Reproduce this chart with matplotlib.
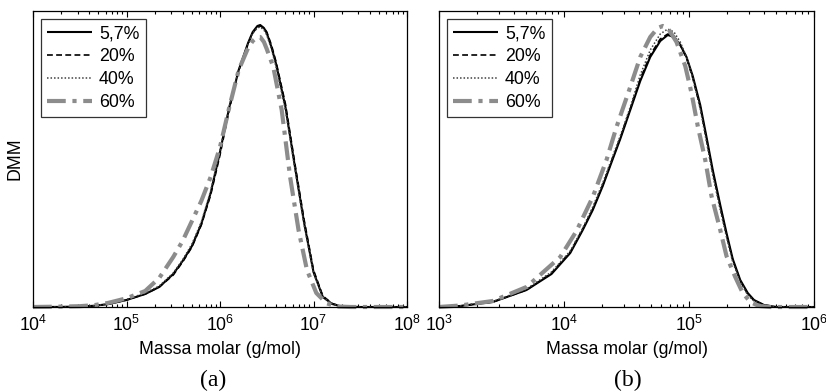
import numpy as np
import matplotlib
matplotlib.use("Agg")
import matplotlib.pyplot as plt

plt.rcParams["font.family"] = ["Liberation Sans", "DejaVu Sans"]
plt.rcParams["mathtext.fontset"] = "custom"
plt.rcParams["mathtext.rm"] = "Liberation Sans"
plt.rcParams["mathtext.it"] = "Liberation Sans:italic"
plt.rcParams["mathtext.bf"] = "Liberation Sans:bold"

labels = ["5,7%", "20%", "40%", "60%"]

# ---- panel (a): log10 of molar mass and distribution values ----
logM_a = [4.0, 4.3, 4.5, 4.65, 4.8, 5.0, 5.2, 5.35, 5.5, 5.6, 5.7, 5.8, 5.9,
          6.0, 6.1, 6.2, 6.3, 6.35, 6.4, 6.43, 6.47, 6.5, 6.55, 6.6, 6.7,
          6.8, 6.9, 7.0, 7.1, 7.2, 7.3, 7.5, 8.0]
dmm_a_57 = [0, 0.1, 0.5, 1.2, 2.8, 7, 13, 20, 33, 46, 61, 83, 114,
            155, 200, 237, 264, 275, 281, 282, 279, 274, 260, 243, 200,
            141, 84, 35, 10, 3, 0.5, 0, 0]
dmm_a_20 = [0, 0.1, 0.5, 1.2, 2.8, 7, 13, 20, 32, 45, 60, 82, 112,
            152, 198, 236, 263, 274, 280, 281, 279, 275, 262, 245, 203,
            144, 87, 37, 11, 3.5, 0.6, 0, 0]
dmm_a_40 = [0, 0.1, 0.6, 1.3, 3.0, 7.5, 14, 21, 34, 47, 63, 85, 116,
            157, 201, 237, 263, 274, 279, 280, 277, 272, 258, 240, 197,
            139, 82, 34, 10, 3, 0.5, 0, 0]
logM_a_60 = [4.0, 4.25, 4.5, 4.65, 4.8, 5.0, 5.2, 5.35, 5.5, 5.6, 5.7, 5.8,
             5.9, 6.0, 6.1, 6.2, 6.3, 6.35, 6.4, 6.43, 6.47, 6.5, 6.57, 6.66,
             6.75, 6.84, 6.93, 7.03, 7.14, 7.25, 7.4, 8.0]
dmm_a_60 = [0, 0.3, 0.8, 1.8, 4, 8.7, 16, 29, 50, 66, 86, 106,
            130, 160, 200, 237, 259, 266, 270, 270, 265, 258, 240, 197,
            130, 77, 37, 14, 3.7, 0.5, 0, 0]

# ---- panel (b) ----
logM_b = [3.0, 3.17, 3.43, 3.7, 3.9, 4.05, 4.15, 4.23, 4.31, 4.39, 4.45,
          4.53, 4.61, 4.69, 4.77, 4.83, 4.88, 4.93, 4.98, 5.03, 5.09, 5.14,
          5.19, 5.25, 5.30, 5.35, 5.41, 5.47, 5.52, 5.60, 5.70, 6.0]
dmm_b_57 = [0, 1, 5, 17, 33, 54, 77, 97, 121, 148, 168,
            197, 226, 250, 266, 272, 270, 262, 250, 231, 202, 170,
            137, 102, 74, 48, 27, 14, 7, 2, 0, 0]
dmm_b_20 = [0, 1, 5, 17, 34, 55, 78, 98, 122, 149, 169,
            198, 228, 252, 268, 273, 271, 262, 249, 229, 200, 168,
            135, 100, 72, 47, 26, 13, 6.5, 2, 0, 0]
dmm_b_40 = [0, 1.2, 5.5, 18, 35, 56, 79, 100, 124, 151, 171,
            200, 232, 257, 273, 278, 275, 265, 250, 229, 198, 165,
            132, 97, 70, 45, 25, 12, 6, 1.5, 0, 0]
logM_b_60 = [3.0, 3.17, 3.43, 3.7, 3.97, 4.1, 4.23, 4.34, 4.42, 4.53, 4.61,
             4.69, 4.75, 4.79, 4.83, 4.90, 4.97, 5.02, 5.07, 5.13, 5.18, 5.25,
             5.30, 5.37, 5.43, 5.49, 5.56, 5.65, 6.0]
dmm_b_60 = [0, 1.5, 6, 20, 50, 76, 110, 147, 180, 220, 250,
            270, 279, 281, 279, 265, 241, 214, 181, 147, 111, 77,
            51, 30, 14, 5, 1, 0, 0]

styles = [
    dict(color="black", lw=1.5, ls="-"),
    dict(color="black", lw=1.2, ls=(0, (3.5, 2.0))),
    dict(color="#404040", lw=1.1, ls=(0, (1.0, 1.3))),
    dict(color="#8c8c8c", lw=3.0, ls=(0, (4.5, 1.6, 1.0, 1.6))),
]

FS = 12.8

fig = plt.figure(figsize=(8.26, 3.92), dpi=100)
W, H = 826, 392
ax_a = fig.add_axes([33 / W, (H - 307) / H, 374 / W, 296 / H])
ax_b = fig.add_axes([439 / W, (H - 307) / H, 375 / W, 296 / H])

panels = [
    (ax_a, [(logM_a, dmm_a_57), (logM_a, dmm_a_20), (logM_a, dmm_a_40),
            (logM_a_60, dmm_a_60)], (1e4, 1e8)),
    (ax_b, [(logM_b, dmm_b_57), (logM_b, dmm_b_20), (logM_b, dmm_b_40),
            (logM_b_60, dmm_b_60)], (1e3, 1e6)),
]

for ax, series, xlim in panels:
    for (lm, d), st, lab in zip(series, styles, labels):
        ax.plot(10 ** np.asarray(lm), d, label=lab, clip_on=False,
                solid_capstyle="butt", dash_capstyle="butt", **st)
    ax.set_xscale("log")
    ax.set_xlim(*xlim)
    ax.set_ylim(0, 296)
    ax.set_yticks([])
    ax.tick_params(axis="x", which="both", direction="in", top=True,
                   bottom=True, labelsize=FS, pad=6)
    ax.tick_params(axis="x", which="major", length=4, width=0.8)
    ax.tick_params(axis="x", which="minor", length=2, width=0.8)
    for sp in ax.spines.values():
        sp.set_linewidth(0.9)
    ax.set_xlabel("Massa molar (g/mol)", fontsize=FS, labelpad=4)
    leg = ax.legend(loc="upper left", bbox_to_anchor=(8 / 374, 1 - 8 / 296),
                    borderaxespad=0, fontsize=FS, frameon=True,
                    fancybox=False, handlelength=2.5, handletextpad=0.4,
                    labelspacing=0.33, borderpad=0.36)
    leg.get_frame().set_edgecolor("black")
    leg.get_frame().set_linewidth(0.9)

ax_a.set_ylabel("DMM", fontsize=FS, labelpad=7)

fig.text(213 / W, 1 - 380 / H, "(a)", family="Liberation Serif",
         fontsize=17, ha="center", va="center")
fig.text(628 / W, 1 - 380 / H, "(b)", family="Liberation Serif",
         fontsize=17, ha="center", va="center")

fig.savefig("out.png", dpi=100)
